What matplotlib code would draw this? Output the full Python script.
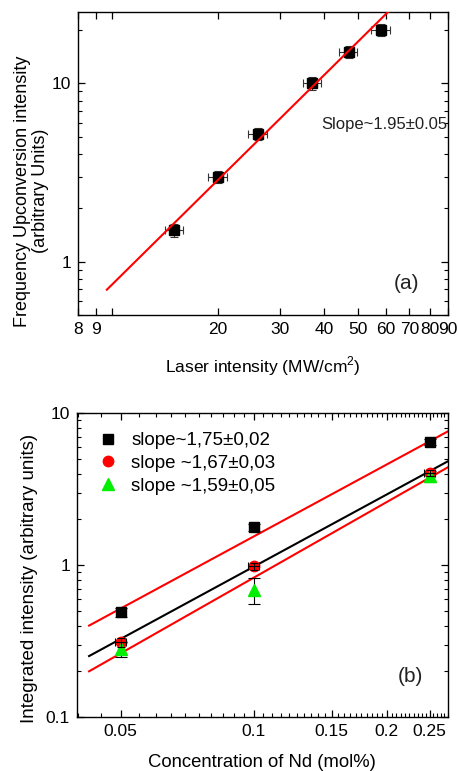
import numpy as np
import matplotlib
matplotlib.use("Agg")
import matplotlib.pyplot as plt
from matplotlib.ticker import FixedLocator, FixedFormatter, NullFormatter, LogLocator

plt.rcParams["font.family"] = ["Liberation Sans", "DejaVu Sans"]
plt.rcParams["mathtext.fontset"] = "custom"
plt.rcParams["mathtext.rm"] = "Liberation Sans"
plt.rcParams["axes.linewidth"] = 1.0

# (a) upconversion intensity vs laser intensity
laser_intensity = [15, 20, 26, 37, 47, 58]
laser_err = [0.9, 1.2, 1.6, 2.2, 2.8, 3.5]
upconv = [1.5, 3.0, 5.2, 10.0, 15.0, 20.0]
upconv_err = [0.12, 0.24, 0.4, 0.8, 1.2, 1.6]
fit_a_slope = 1.95
fit_a_coef = 0.00834
fit_a_range = [9.67, 66]

# (b) integrated intensity vs Nd concentration
conc = [0.05, 0.1, 0.25]
sq_vals = [0.49, 1.78, 6.5]
sq_err = [0.035, 0.1, 0.3]
circ_vals = [0.31, 0.98, 4.05]
circ_err = [0.02, 0.05, 0.2]
tri_vals = [0.28, 0.69, 3.85]
tri_err = [0.03, 0.135, 0.3]
legend_labels = ["slope~1,75\u00b10,02", "slope ~1,67\u00b10,03", "slope ~1,59\u00b10,05"]
fit_b_x = [0.0424, 0.275]
fit_b_upper = [0.40, 7.6]
fit_b_mid = [0.252, 4.83]
fit_b_lower = [0.20, 4.41]

fig = plt.figure(figsize=(4.58, 7.71), dpi=100)
ax1 = fig.add_axes([0.170, 0.591, 0.808, 0.393])
ax2 = fig.add_axes([0.168, 0.070, 0.810, 0.394])

# ---- panel (a)
ax1.set_xscale("log")
ax1.set_yscale("log")
ax1.errorbar(laser_intensity, upconv, xerr=laser_err, yerr=upconv_err,
             fmt="s", color="black", ms=7, ecolor="#333333", elinewidth=0.8,
             capsize=3, capthick=0.8, zorder=3)
xf = np.array(fit_a_range)
ax1.plot(xf, fit_a_coef * xf ** fit_a_slope, color="red", lw=1.5, zorder=4)
ax1.set_xlim(8, 90)
ax1.set_ylim(0.5, 25)
xt = [8, 9, 10, 20, 30, 40, 50, 60, 70, 80, 90]
ax1.xaxis.set_major_locator(FixedLocator(xt))
ax1.xaxis.set_major_formatter(FixedFormatter(["8", "9", "", "20", "30", "40", "50",
                                              "60", "70", "80", "90"]))
ax1.xaxis.set_minor_locator(FixedLocator([]))
ax1.yaxis.set_major_locator(FixedLocator([1, 10]))
ax1.yaxis.set_major_formatter(FixedFormatter(["1", "10"]))
ax1.yaxis.set_minor_locator(LogLocator(base=10, subs=np.arange(2, 10)))
ax1.yaxis.set_minor_formatter(NullFormatter())
ax1.text(0.657, 0.630, "Slope~1.95\u00b10.05", transform=ax1.transAxes,
         fontsize=12, ha="left", va="center", color="#222222")
ax1.text(0.889, 0.106, "(a)", transform=ax1.transAxes, fontsize=15,
         ha="center", va="center", color="#222222")
ax1.set_xlabel("Laser intensity (MW/cm$^{2}$)", fontsize=12.5)
ax1.set_ylabel("Frequency Upconversion intensity\n(arbitrary Units)", fontsize=13,
               multialignment="center", linespacing=1.1)
ax1.xaxis.set_label_coords(0.5, -0.128)
ax1.yaxis.set_label_coords(-0.078, 0.41)

# ---- panel (b)
ax2.set_xscale("log")
ax2.set_yscale("log")
ax2.plot(fit_b_x, fit_b_upper, color="red", lw=1.5, zorder=2)
ax2.plot(fit_b_x, fit_b_mid, color="black", lw=1.5, zorder=2)
ax2.plot(fit_b_x, fit_b_lower, color="red", lw=1.5, zorder=2)
ax2.errorbar(conc, sq_vals, yerr=sq_err, fmt="none", ecolor="black",
             elinewidth=0.8, capsize=4, capthick=0.8, zorder=3)
ax2.errorbar(conc, circ_vals, yerr=circ_err, xerr=[0.0015, 0.003, 0.0075],
             fmt="none", ecolor="black", elinewidth=0.8, capsize=3,
             capthick=0.8, zorder=5)
ax2.errorbar(conc, tri_vals, yerr=tri_err, fmt="none", ecolor="black",
             elinewidth=0.8, capsize=4, capthick=0.8, zorder=3)
ax2.plot(conc, sq_vals, "s", color="black", ms=7, label=legend_labels[0], zorder=4)
ax2.plot(conc, circ_vals, "o", color="red", ms=7.5, label=legend_labels[1], zorder=4)
ax2.plot(conc, tri_vals, "^", color="#00ee00", ms=8, label=legend_labels[2], zorder=4)
ax2.set_xlim(0.0398, 0.275)
ax2.set_ylim(0.1, 10)
ax2.xaxis.set_major_locator(FixedLocator([0.05, 0.1, 0.15, 0.2, 0.25]))
ax2.xaxis.set_major_formatter(FixedFormatter(["0.05", "0.1", "0.15", "0.2", "0.25"]))
ax2.xaxis.set_minor_locator(FixedLocator(np.arange(0.04, 0.2751, 0.005)))
ax2.xaxis.set_minor_formatter(NullFormatter())
ax2.yaxis.set_major_locator(FixedLocator([0.1, 1, 10]))
ax2.yaxis.set_major_formatter(FixedFormatter(["0.1", "1", "10"]))
ax2.yaxis.set_minor_locator(LogLocator(base=10, subs=np.arange(2, 10)))
ax2.yaxis.set_minor_formatter(NullFormatter())
ax2.legend(loc="upper left", bbox_to_anchor=(0.007, 1.0), frameon=False,
           fontsize=13.5, handlelength=1.0, handletextpad=0.75,
           labelspacing=0.3, borderaxespad=0.6)
ax2.text(0.898, 0.132, "(b)", transform=ax2.transAxes, fontsize=15,
         ha="center", va="center", color="#222222")
ax2.set_xlabel("Concentration of Nd (mol%)", fontsize=13.3)
ax2.set_ylabel("Integrated intensity (arbitrary units)", fontsize=13.5)
ax2.xaxis.set_label_coords(0.5, -0.122)
ax2.yaxis.set_label_coords(-0.105, 0.457)

for ax in (ax1, ax2):
    ax.tick_params(which="both", direction="in", top=True, right=True,
                   labelsize=12.5, pad=5)
    ax.tick_params(which="major", length=5, width=0.9)
    ax.tick_params(which="minor", length=3, width=0.8)

fig.savefig("out.png", dpi=100)
